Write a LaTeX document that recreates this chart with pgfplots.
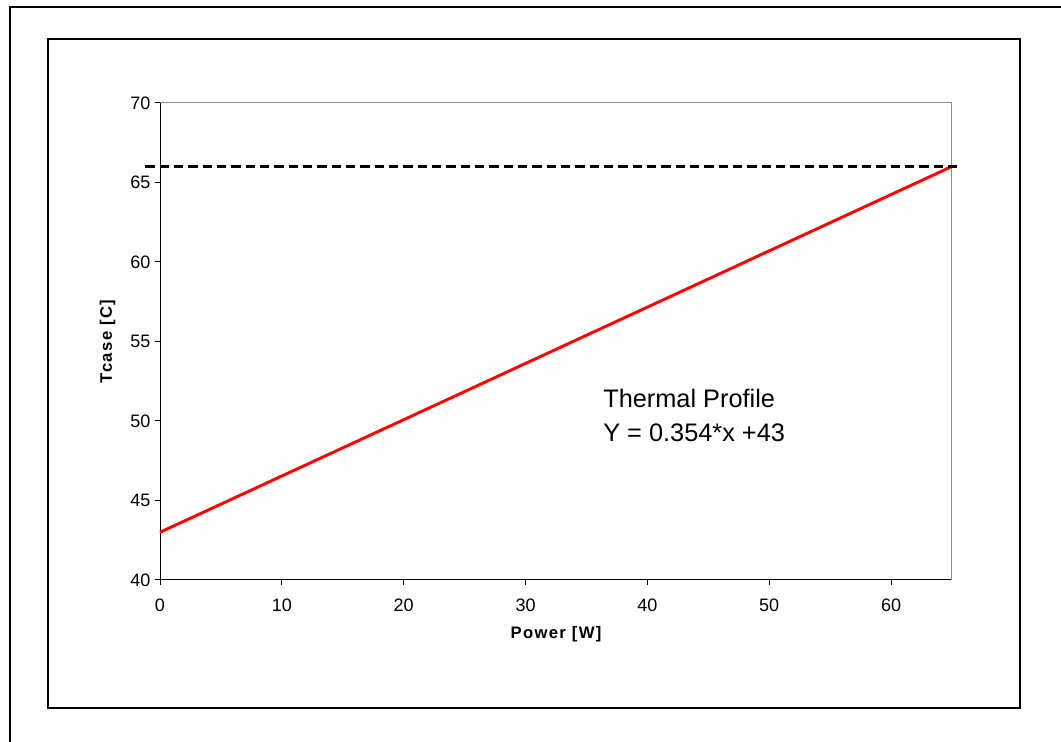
\documentclass[border=0pt]{standalone}
\usepackage{fontspec}
\setmainfont{Liberation Sans}
\newfontfamily\labfont[LetterSpace=8]{Liberation Sans}
\usepackage{pgfplots}
\pgfplotsset{compat=1.18}

\begin{document}
\begin{tikzpicture}[x=1pt,y=1pt]
  % page = 1061x742 px at 0.75pt per px
  \path[use as bounding box] (0,0) rectangle (795.75,556.5);
  \draw[line width=1.5pt] (7.5,-5) -- (7.5,551.25) -- (805,551.25);
  \draw[line width=0.9pt] (36,25.5) rectangle (765,527.25);
  \begin{axis}[
      at={(120pt,121.5pt)}, anchor=south west,
      scale only axis, width=594pt, height=357.75pt,
      xmin=0, xmax=65, ymin=40, ymax=70,
      xtick={0,10,...,60}, ytick={40,45,...,70},
      axis x line*=bottom, axis y line*=left,
      axis line style={black, line width=0.75pt, -},
      tick align=outside, major tick length=3.75pt,
      tick style={black, line width=0.75pt},
      tick label style={font=\fontsize{13.5}{16}\selectfont},
      xticklabel style={yshift=-7pt},
      /pgf/number format/assume math mode=true,
      xlabel={Power [W]}, ylabel={Tcase [C]},
      label style={font=\labfont\bfseries\fontsize{12.5}{15}\selectfont},
      xlabel style={at={(axis cs:32.5,36.35)}, anchor=base},
      ylabel style={at={(axis cs:-3.94,55)}, anchor=base},
      clip=false,
    ]
    \draw[gray!90, line width=0.75pt] (rel axis cs:0,1) -- (rel axis cs:1,1) -- (rel axis cs:1,0);
    \addplot[red, line width=2.2pt] coordinates {
      (0,43) (5,44.77) (10,46.54) (15,48.31) (20,50.08) (25,51.85) (30,53.62)
      (35,55.39) (40,57.16) (45,58.93) (50,60.70) (55,62.47) (60,64.24) (65,66.01)
    };
    \addplot[black, line width=2.25pt, dash pattern=on 7pt off 3.75pt] coordinates {
      (-1.2,66) (65.4,66)
    };
    \node[anchor=base west, inner sep=0pt, font=\fontsize{19}{22}\selectfont] at (axis cs:36.36,50.88) {Thermal Profile};
    \node[anchor=base west, inner sep=0pt, font=\fontsize{19}{22}\selectfont] at (axis cs:36.36,48.74) {Y = 0.354*x +43};
  \end{axis}
\end{tikzpicture}
\end{document}
